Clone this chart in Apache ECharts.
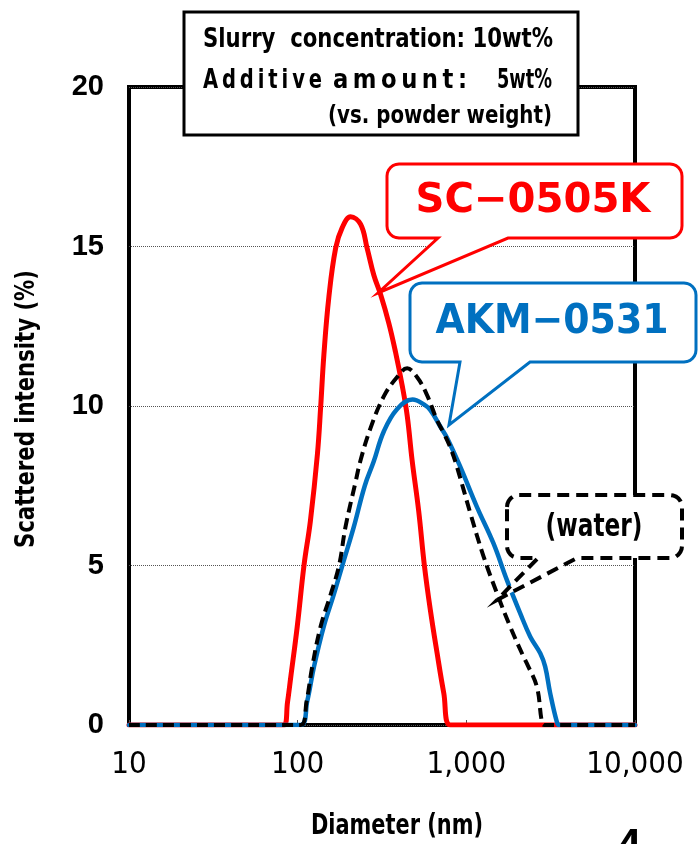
<!DOCTYPE html>
<html><head><meta charset="utf-8">
<script src="https://cdn.jsdelivr.net/npm/echarts@6/dist/echarts.min.js"></script>
<style>html,body{margin:0;padding:0;background:#fff}#c{width:698px;height:844px}</style>
</head><body><div id="c"></div>
<script>
// ---- data ----
const xTickValues = [10, 100, 1000, 10000];
const yTickValues = [0, 5, 10, 15, 20];

const scDiam = [10, 83, 87, 91, 99.5, 109, 119, 131, 137, 143, 153, 168, 184, 206, 236, 258, 283, 310, 347, 380, 416, 446, 477, 522, 564, 612, 671, 735, 804, 10000];
const scVal  = [0, 0, 0.7, 1.5, 3.1, 5.0, 6.4, 8.5, 10.0, 11.6, 13.4, 14.95, 15.6, 15.93, 15.7, 14.95, 14.1, 13.5, 12.6, 11.7, 10.66, 9.7, 8.3, 6.7, 5.0, 3.6, 2.25, 1.0, 0, 0];

const akmDiam = [10, 104, 114, 125, 143, 164, 184, 215, 250, 282, 324, 388, 480, 560, 612, 702, 769, 920, 1155, 1447, 1738, 2087, 2393, 2743, 2934, 3140, 3440, 3550, 10000];
const akmVal  = [0, 0, 0.75, 1.83, 3.1, 4.1, 5.0, 6.2, 7.5, 8.25, 9.2, 9.9, 10.2, 10.05, 9.87, 9.35, 9.0, 8.1, 6.84, 5.7, 4.55, 3.5, 2.77, 2.25, 1.83, 1.0, 0.1, 0, 0];

const waterDiam = [10, 104, 113, 122, 137, 157, 176, 192, 220, 236, 270, 324, 388, 446, 511, 585, 671, 735, 804, 879, 1056, 1266, 1519, 1820, 2183, 2284, 2618, 2805, 2900, 10000];
const waterVal  = [0, 0, 0.75, 1.83, 3.1, 4.1, 5.0, 6.2, 7.6, 8.3, 9.3, 10.3, 10.9, 11.18, 10.9, 10.34, 9.55, 9.15, 8.7, 8.1, 6.64, 5.28, 4.13, 3.08, 2.14, 1.93, 1.2, 0.1, 0, 0];

const seriesNames = ['SC\u22120505K', 'AKM\u22120531', '(water)'];
const noteLine1 = 'Slurry  concentration: 10wt%';
const noteLine2Parts = ['Additive', 'amount:', '5wt%'];
const noteLine3 = '(vs. powder weight)';
const xAxisTitle = 'Diameter (nm)';
const yAxisTitle = 'Scattered intensity (%)';
const cornerMark = '4';

// ---- helpers ----
const COND = "'DejaVu Sans Condensed','Liberation Sans Narrow',sans-serif";
const measureCtx = document.createElement('canvas').getContext('2d');
function spaced(s) { return s.split('').join('\u2009'); }
function fitScale(text, font, target) {
  measureCtx.font = font;
  const w = measureCtx.measureText(text).width;
  return w > 0 ? target / w : 1;
}
function fitText(text, font, x, y, targetWidth, align, fill, extra) {
  const s = fitScale(text, font, targetWidth);
  return Object.assign({
    type: 'text', z: 101, x: x, y: y, scaleX: s, scaleY: 1,
    style: { text: text, x: 0, y: 0, font: font, fill: fill || '#000', textAlign: align || 'left', textVerticalAlign: 'middle' }
  }, extra || {});
}
function zip(a, b) { return a.map((v, i) => [v, b[i]]); }
function callout(x0, y0, x1, y1, r, bx1, bx2, tx, ty) {
  const pts = [];
  function arc(cx, cy, a0, a1) {
    for (let k = 0; k <= 6; k++) {
      const a = (a0 + (a1 - a0) * k / 6) * Math.PI / 180;
      pts.push([cx + r * Math.cos(a), cy + r * Math.sin(a)]);
    }
  }
  arc(x0 + r, y0 + r, 180, 270);
  arc(x1 - r, y0 + r, 270, 360);
  arc(x1 - r, y1 - r, 0, 90);
  pts.push([bx2, y1]); pts.push([tx, ty]); pts.push([bx1, y1]);
  arc(x0 + r, y1 - r, 90, 180);
  return pts;
}

const boxFont = 'bold 27px ' + COND;
const calloutFont = "bold 40px 'DejaVu Sans',sans-serif";

const chart = echarts.init(document.getElementById('c'), null, { renderer: 'canvas' });
const option = {
  animation: false,
  backgroundColor: '#fff',
  grid: { left: 129, right: 63, top: 87, bottom: 119, show: true, borderColor: '#000', borderWidth: 4, backgroundColor: 'transparent' },
  xAxis: {
    type: 'log', logBase: 10, min: xTickValues[0], max: xTickValues[xTickValues.length - 1],
    axisLine: { show: false },
    axisTick: { show: true, inside: true, length: 5, lineStyle: { color: '#555', width: 1 } },
    minorTick: { show: false },
    splitLine: { show: false },
    axisLabel: { formatter: v => Number(v).toLocaleString('en-US'), fontFamily: COND, fontSize: 31, color: '#000', margin: 24 }
  },
  yAxis: {
    type: 'value', min: yTickValues[0], max: yTickValues[yTickValues.length - 1], interval: 5,
    axisLine: { show: false }, axisTick: { show: false },
    splitLine: { show: true, lineStyle: { type: 'dotted', color: '#555', width: 1 } },
    axisLabel: { fontFamily: "'Liberation Sans',Arial,sans-serif", fontWeight: 'bold', fontSize: 29, color: '#000', margin: 25 }
  },
  series: [
    { name: seriesNames[0], type: 'line', data: zip(scDiam, scVal), showSymbol: false, symbol: 'none', smooth: 0.4, z: 2,
      lineStyle: { color: '#ff0000', width: 5, cap: 'round', join: 'round' } },
    { name: seriesNames[1], type: 'line', data: zip(akmDiam, akmVal), showSymbol: false, symbol: 'none', smooth: 0.4, z: 3,
      lineStyle: { color: '#0070c0', width: 4.5, cap: 'round', join: 'round' } },
    { name: seriesNames[2], type: 'line', data: zip(waterDiam, waterVal), showSymbol: false, symbol: 'none', smooth: 0.4, z: 4,
      lineStyle: { color: '#000', width: 4, type: [11, 6], join: 'round' } }
  ],
  graphic: [
    // axis titles
    fitText(yAxisTitle, 'bold 27px ' + COND, 27, 409, 278, 'center', '#000', { rotation: Math.PI / 2 }),
    fitText(xAxisTitle, 'bold 28px ' + COND, 397, 827, 172, 'center'),

    // condition box
    { type: 'rect', z: 100, shape: { x: 184, y: 12, width: 394, height: 123 }, style: { fill: '#fff', stroke: '#000', lineWidth: 3 } },
    fitText(noteLine1, boxFont, 203, 40, 350, 'left'),
    fitText(spaced(noteLine2Parts[0]), boxFont, 203, 81, 119, 'left'),
    fitText(spaced(noteLine2Parts[1]), boxFont, 333, 81, 134, 'left'),
    fitText(noteLine2Parts[2], boxFont, 552, 81, 55, 'right'),
    fitText(noteLine3, 'bold 25px ' + COND, 552, 116, 224, 'right'),

    // callouts
    { type: 'polygon', z: 100, shape: { points: callout(387, 164, 682, 238, 12, 438, 508, 378, 293) }, style: { fill: '#fff', stroke: '#ff0000', lineWidth: 3 } },
    fitText(seriesNames[0], calloutFont, 533, 202, 235, 'center', '#ff0000'),

    { type: 'polygon', z: 100, shape: { points: callout(410, 283, 696, 362, 12, 460, 530, 449, 425) }, style: { fill: '#fff', stroke: '#0070c0', lineWidth: 3 } },
    fitText(seriesNames[1], calloutFont, 552, 323, 233, 'center', '#0070c0'),

    { type: 'polygon', z: 100, shape: { points: callout(507, 495, 682, 558, 12, 538, 577, 497, 600) }, style: { fill: '#fff', stroke: '#000', lineWidth: 4, lineDash: [12, 7] } },
    fitText(seriesNames[2], 'bold 32px ' + COND, 594, 528, 97, 'center'),

    { type: 'text', z: 101, style: { text: cornerMark, x: 629, y: 826, font: "bold 44px 'Liberation Sans',sans-serif", fill: '#000', textAlign: 'center', textVerticalAlign: 'top' } }
  ]
};
chart.setOption(option);
</script>
</body></html>
